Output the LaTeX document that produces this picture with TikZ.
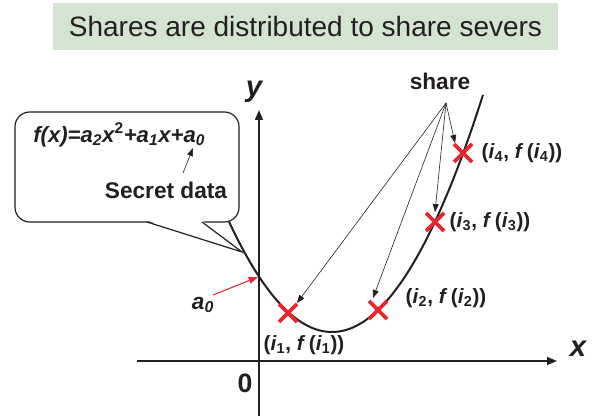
\documentclass[tikz,border=0pt]{standalone}
\usepackage{fontspec}
\setmainfont{Liberation Sans}
\usetikzlibrary{arrows.meta}
\definecolor{titlegreen}{HTML}{D3E5D1}
\definecolor{xred}{HTML}{E8262C}
\definecolor{ink}{HTML}{231F20}
\begin{document}
\begin{tikzpicture}[x=0.75pt,y=-0.75pt,
  lbl/.style={font=\bfseries\fontsize{15.5}{17}\selectfont, text=ink, inner sep=0pt},
  axisline/.style={line width=1.1pt, draw=ink, -{Triangle[length=7.5pt,width=6pt]}},
  ptr/.style={line width=0.45pt, draw=ink, -{Triangle[length=6pt,width=4.5pt]}},
  xmark/.pic={\draw[xred, line width=2.8pt] (-9,-9)--(9,9) (-9,9)--(9,-9);}
]
\useasboundingbox (0,0) rectangle (592,416);
% title
\node[fill=titlegreen, minimum width=378.75pt, minimum height=35pt, text=ink,
      font=\fontsize{21}{25}\selectfont, inner sep=0pt] (title) at (305.5,26.5)
      {Shares are distributed to share severs};
% axes
\coordinate (xs) at (137,361); \coordinate (xe) at (557,361);
\coordinate (ys) at (259,416); \coordinate (ye) at (259,110);
\draw[axisline] (xs) -- (xe);
\draw[axisline] (ys) -- (ye);
\node[font=\bfseries\itshape\fontsize{22}{24}\selectfont, text=ink, inner sep=0pt] (xl) at (578,349) {x};
\node[font=\bfseries\itshape\fontsize{22}{24}\selectfont, text=ink, inner sep=0pt] (yl) at (254,92) {y};
\node[font=\bfseries\fontsize{20}{22}\selectfont, text=ink, inner sep=0pt] (zero) at (245,383) {0};
% callout
\node[draw=ink, fill=white, rounded corners=11pt, line width=0.9pt,
      minimum width=168pt, minimum height=82.5pt] (callout) at (127,167) {};
\coordinate (tl) at (147,222); \coordinate (tr) at (202,222); \coordinate (tip) at (242,252);
\fill[white] (147,220.5) -- (tip) -- (202,220.5) -- cycle;
\draw[ink, line width=0.9pt] (tl) -- (tip) -- (tr);
\node[font=\bfseries\itshape\fontsize{16.6}{18}\selectfont, text=ink, inner sep=0pt, anchor=west] (formula) at (33,135)
  {f(x)=a\textsubscript{2}x\textsuperscript{\upshape 2}+a\textsubscript{1}x+a\textsubscript{0}};
\node[font=\bfseries\fontsize{17}{19}\selectfont, text=ink, inner sep=0pt] (secret) at (166,190) {Secret data};
\coordinate (sa) at (183,173); \coordinate (sb) at (193,148);
\draw[ptr] (sa) -- (sb);
% curve
\draw[ink, line width=1.5pt] plot[domain=229:483, samples=80, smooth] (\x,{332-1.04*((\x-332)/10)^2});
% a0
\node[font=\bfseries\itshape\fontsize{17}{19}\selectfont, text=ink, inner sep=0pt] (a0) at (203,305) {a\textsubscript{0}};
\coordinate (ra) at (213,295); \coordinate (rb) at (258,277);
\draw[xred, line width=0.8pt, -{Triangle[length=7pt,width=5pt]}] (ra) -- (rb);
% points
\coordinate (P1) at (288,313); \coordinate (P2) at (378,310);
\coordinate (P3) at (435,222); \coordinate (P4) at (463,153);
\pic at (P1) {xmark}; \pic at (P2) {xmark}; \pic at (P3) {xmark}; \pic at (P4) {xmark};
\node[lbl] (L1) at (304,345) {(\textit{i}\textsubscript{1}, \textit{f}\,(\textit{i}\textsubscript{1}))};
\node[lbl] (L2) at (446,298) {(\textit{i}\textsubscript{2}, \textit{f}\,(\textit{i}\textsubscript{2}))};
\node[lbl] (L3) at (490,222) {(\textit{i}\textsubscript{3}, \textit{f}\,(\textit{i}\textsubscript{3}))};
\node[lbl] (L4) at (522,153) {(\textit{i}\textsubscript{4}, \textit{f}\,(\textit{i}\textsubscript{4}))};
% share
\node[font=\bfseries\fontsize{17}{19}\selectfont, text=ink, inner sep=0pt] (share) at (440,81) {share};
\coordinate (s0) at (446,103);
\coordinate (T1) at (297,303); \coordinate (T2) at (373,298);
\coordinate (T3) at (435,212); \coordinate (T4) at (455,143);
\draw[ptr] (s0) -- (T1);
\draw[ptr] (s0) -- (T2);
\draw[ptr] (s0) -- (T3);
\draw[ptr] (s0) -- (T4);
\end{tikzpicture}
\end{document}
